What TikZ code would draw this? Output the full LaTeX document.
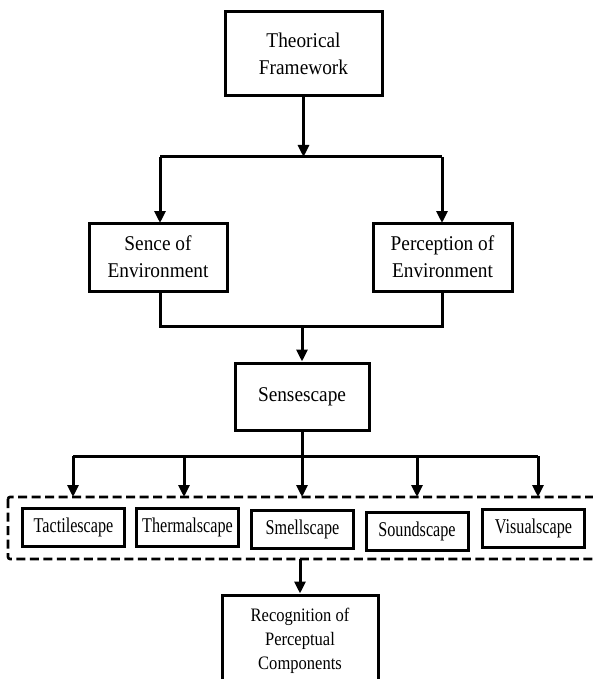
\documentclass[tikz,border=0pt]{standalone}
\usepackage{fontspec}
\setmainfont{Liberation Serif}
\newfontfamily\bigfont[FakeStretch=0.92]{Liberation Serif}
\newfontfamily\scapefont[FakeStretch=0.77]{Liberation Serif}
\newfontfamily\recogfont[FakeStretch=0.87]{Liberation Serif}
\usetikzlibrary{arrows.meta}

\tikzset{
  bigbox/.style={draw, line width=3pt, align=center, inner sep=0pt,
    font=\bigfont\fontsize{21}{27}\selectfont},
  scapebox/.style={draw, line width=3pt, align=center, inner sep=0pt,
    minimum width=102pt, minimum height=38pt, font=\scapefont\fontsize{21}{24}\selectfont},
  link/.style={line width=3pt},
  arr/.style={line width=3pt, -{Triangle[length=12pt,width=11pt]}},
}

\begin{document}
\begin{tikzpicture}[x=1pt,y=-1pt]
		\useasboundingbox (0,0) rectangle (592,679);
		
		% Theorical Framework
		\node[bigbox, minimum width=157pt, minimum height=84pt] (theory) at (303.5,54) {Theorical\\Framework};
		
		% Sence / Perception
		\node[bigbox, minimum width=138pt, minimum height=68pt] (sense) at (158,257) {Sence of\\Environment};
		\node[bigbox, minimum width=139pt, minimum height=68pt] (percept) at (442.5,257) {Perception of\\Environment};
		
		% Sensescape
		\node[bigbox, minimum width=134pt, minimum height=67pt] (sensescape) at (302,396.5) {Sensescape};
		
		% the five scapes
		\node[scapebox] (tactile) at (73.5,527) {Tactilescape};
		\node[scapebox] (thermal) at (187.5,527) {Thermalscape};
		\node[scapebox] (smell) at (302.5,529) {Smellscape};
		\node[scapebox] (sound) at (417,531) {Soundscape};
		\node[scapebox] (visual) at (533.5,528) {Visualscape};
		
		% dashed group round the scapes
		\draw[line width=2.6pt, dash pattern=on 9pt off 4.5pt, rounded corners=2pt] (8,497) rectangle (606,559);
		
		% Recognition
		\node[draw, line width=3pt, align=center, inner sep=0pt, minimum width=156pt, minimum height=92pt,
		  font=\recogfont\fontsize{19}{24}\selectfont] (recog) at (300,641) {Recognition of\\Perceptual\\Components};
		
		% helper points
		\coordinate (split) at (303.5,157);
		\coordinate (join) at (302,326);
		\coordinate (bus) at (302,456);
		\coordinate (grpbot) at (300,559);
		
		% Theorical Framework to the two boxes
		\draw[arr] (theory.south) -- (split);
		\draw[link] (160,157) -- (442,157);
		\draw[arr] (160,157) -- (160,223);
		\draw[arr] (442,157) -- (442,223);
		
		% two boxes to Sensescape
		\draw[link] (160,291) -- (160,326) -- (442,326) -- (442,291);
		\draw[arr] (join) -- (sensescape.north);
		
		% Sensescape to the scapes
		\draw[link] (sensescape.south) -- (bus);
		\draw[link] (73,456) -- (538,456);
		\foreach \xx in {73,184,302,417,538}
		  \draw[arr] (\xx,456) -- (\xx,497);
		
		% scapes to Recognition
		\draw[arr] (grpbot) -- (recog.north);
	\end{tikzpicture}
\end{document}
